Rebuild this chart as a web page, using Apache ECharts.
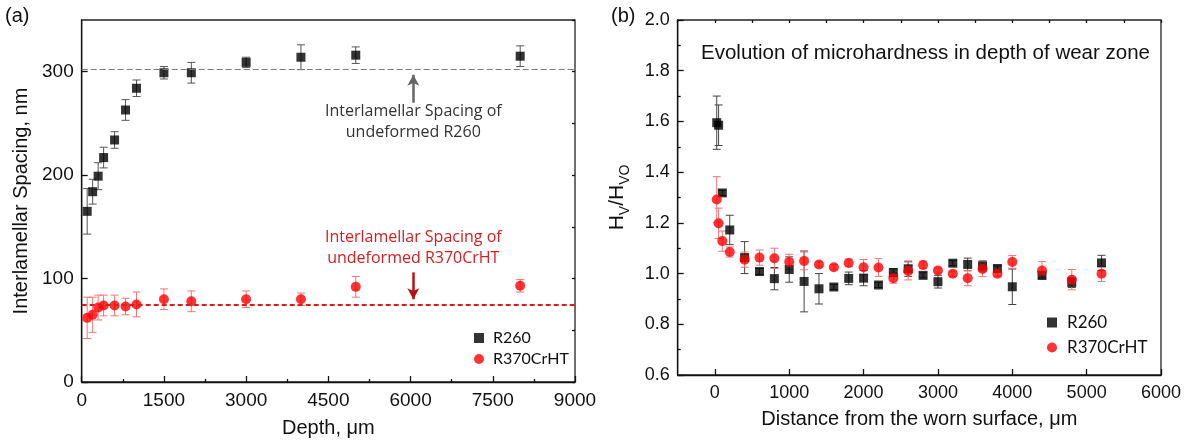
<!DOCTYPE html>
<html>
<head>
<meta charset="utf-8">
<script src="https://cdn.jsdelivr.net/npm/echarts@6/dist/echarts.min.js"></script>
<style>
  html, body { margin: 0; padding: 0; background: #ffffff; }
  #chart { width: 1192px; height: 443px; }
</style>
</head>
<body>
<div id="chart"></div>
<script>
// ---- Panel (a): interlamellar spacing versus depth ----
const depthUm = [100, 200, 300, 400, 600, 800, 1000, 1500, 2000, 3000, 4000, 5000, 8000];
const spacingR260 = [165, 184, 199, 217, 234, 263, 284, 299, 299, 309, 314, 316, 315];
const spacingR260Err = [22, 12, 13, 10, 8, 10, 8, 6, 10, 5, 12, 8, 10];
const spacingR370 = [62, 65, 72, 74, 74, 73, 75, 80, 78, 80, 80, 92, 93];
const spacingR370Err = [20, 17, 12, 10, 10, 8, 12, 10, 10, 8, 6, 10, 6];
const refSpacingR260 = 302;
const refSpacingR370 = 75;
const depthTicks = [0, 1500, 3000, 4500, 6000, 7500, 9000];
const spacingTicks = [0, 100, 200, 300];

// ---- Panel (b): normalised microhardness versus distance from the worn surface ----
const distanceUm = [25, 50, 100, 200, 400, 600, 800, 1000, 1200, 1400, 1600, 1800, 2000,
  2200, 2400, 2600, 2800, 3000, 3200, 3400, 3600, 3800, 4000, 4400, 4800, 5200];
const hvR260 = [1.595, 1.585, 1.318, 1.172, 1.063, 1.008, 0.980, 1.016, 0.969, 0.940, 0.947, 0.981, 0.982,
  0.955, 1.004, 1.019, 0.993, 0.968, 1.041, 1.036, 1.030, 1.020, 0.948, 0.993, 0.965, 1.042];
const hvR260Err = [0.105, 0.08, 0.01, 0.058, 0.063, 0.012, 0.044, 0.05, 0.12, 0.06, 0.01, 0.025, 0.03,
  0.01, 0.015, 0.03, 0.01, 0.025, 0.01, 0.025, 0.02, 0.01, 0.07, 0.01, 0.02, 0.03];
const hvR370 = [1.292, 1.198, 1.128, 1.085, 1.055, 1.063, 1.060, 1.046, 1.050, 1.036, 1.025, 1.042, 1.025,
  1.024, 0.982, 1.010, 1.034, 1.012, 0.999, 0.982, 1.018, 0.999, 1.046, 1.012, 0.976, 0.999];
const hvR370Err = [0.09, 0.06, 0.04, 0.02, 0.03, 0.03, 0.04, 0.03, 0.035, 0.01, 0.01, 0.015, 0.03,
  0.035, 0.02, 0.035, 0.015, 0.01, 0.01, 0.03, 0.03, 0.01, 0.025, 0.035, 0.04, 0.03];
const distanceTicks = [0, 1000, 2000, 3000, 4000, 5000, 6000];

const AXIS_FONT = '"Liberation Sans", Arial, sans-serif';
const NOTE_FONT = '"Open Sans", Lato, sans-serif';
const LEGEND_FONT = 'Lato, "Open Sans", sans-serif';
const INK = '#111111';

function zip3(xs, ys, es) {
  return xs.map((x, i) => [x, ys[i], es[i]]);
}

const plainNumber = v => String(v);

// Vertical error bar with short caps, drawn in data coordinates.
function errorBarRenderer(color) {
  return function (params, api) {
    const x = api.value(0), y = api.value(1), e = api.value(2);
    const hi = api.coord([x, y + e]);
    const lo = api.coord([x, y - e]);
    const cap = 4;
    const style = { stroke: color, lineWidth: 1 };
    return {
      type: 'group',
      children: [
        { type: 'line', shape: { x1: hi[0], y1: hi[1], x2: lo[0], y2: lo[1] }, style },
        { type: 'line', shape: { x1: hi[0] - cap, y1: hi[1], x2: hi[0] + cap, y2: hi[1] }, style },
        { type: 'line', shape: { x1: lo[0] - cap, y1: lo[1], x2: lo[0] + cap, y2: lo[1] }, style }
      ]
    };
  };
}

// Two-line note centred on a data point.
function noteRenderer(lines, color) {
  return function (params, api) {
    const p = api.coord([api.value(0), api.value(1)]);
    return {
      type: 'text',
      x: p[0], y: p[1],
      style: {
        text: lines.join('\n'),
        fill: color,
        font: '16px ' + NOTE_FONT,
        align: 'center',
        verticalAlign: 'middle',
        lineHeight: 21
      }
    };
  };
}

function errorSeries(name, xi, yi, data, color) {
  return {
    name, type: 'custom', xAxisIndex: xi, yAxisIndex: yi,
    data, encode: { x: 0, y: 1 }, z: 2, silent: true,
    renderItem: errorBarRenderer(color)
  };
}

const tickStyle = { color: INK, width: 1.3 };

const chart = echarts.init(document.getElementById('chart'), null, { renderer: 'canvas' });

chart.setOption({
  animation: false,
  backgroundColor: '#ffffff',
  grid: [
    { left: 81.7, top: 20, width: 493.3, height: 363.3, show: true, borderColor: '#222', borderWidth: 1.3, backgroundColor: 'transparent' },
    { left: 677.7, top: 20, width: 483.3, height: 355, show: true, borderColor: '#222', borderWidth: 1.3, backgroundColor: 'transparent' }
  ],
  title: {
    text: 'Evolution of microhardness in depth of wear zone',
    left: 696, top: 38,
    textStyle: { fontFamily: AXIS_FONT, fontSize: 20.5, fontWeight: 'normal', color: INK }
  },
  graphic: [
    { type: 'text', left: 5, top: 6, style: { text: '(a)', font: '20px ' + AXIS_FONT, fill: INK } },
    { type: 'text', left: 611, top: 6, style: { text: '(b)', font: '20px ' + AXIS_FONT, fill: INK } }
  ],
  legend: [
    {
      data: ['R260', 'R370CrHT'], orient: 'vertical', left: 469, top: 325,
      itemWidth: 10, itemHeight: 10, itemGap: 5, selectedMode: false,
      textStyle: { fontFamily: LEGEND_FONT, fontSize: 16, color: INK, padding: [0, 0, 0, 4] }
    },
    {
      data: ['R260', 'R370CrHT'], orient: 'vertical', left: 1042, top: 309,
      itemWidth: 10, itemHeight: 10, itemGap: 8, selectedMode: false,
      textStyle: { fontFamily: LEGEND_FONT, fontSize: 17, color: INK, padding: [0, 0, 0, 5] }
    }
  ],
  xAxis: [
    {
      gridIndex: 0, type: 'value', min: 0, max: 9000, interval: 1500,
      axisLine: { onZero: false, lineStyle: tickStyle },
      axisTick: { inside: true, length: 6, lineStyle: tickStyle },
      minorTick: { show: true, splitNumber: 2, length: 3, lineStyle: tickStyle },
      splitLine: { show: false },
      axisLabel: { color: INK, fontFamily: AXIS_FONT, fontSize: 19, margin: 9, customValues: depthTicks, formatter: plainNumber },
      name: 'Depth, \u03bcm', nameLocation: 'middle', nameGap: 36,
      nameTextStyle: { color: INK, fontFamily: AXIS_FONT, fontSize: 20 }
    },
    {
      gridIndex: 1, type: 'value', min: -500, max: 6000, interval: 500,
      axisLine: { onZero: false, lineStyle: tickStyle },
      axisTick: { inside: true, length: 6, lineStyle: tickStyle, customValues: distanceTicks },
      splitLine: { show: false },
      axisLabel: { color: INK, fontFamily: AXIS_FONT, fontSize: 18, margin: 9, customValues: distanceTicks, formatter: plainNumber },
      name: 'Distance from the worn surface, \u03bcm', nameLocation: 'middle', nameGap: 34,
      nameTextStyle: { color: INK, fontFamily: AXIS_FONT, fontSize: 20 }
    },
    {
      // short ticks every 500 µm
      gridIndex: 1, type: 'value', min: -500, max: 6000, interval: 500,
      axisLine: { show: false, onZero: false },
      axisTick: { inside: true, length: 3, lineStyle: tickStyle },
      axisLabel: { show: false }, splitLine: { show: false }
    }
  ],
  yAxis: [
    {
      gridIndex: 0, type: 'value', min: 0, max: 350, interval: 50,
      axisLine: { show: true, onZero: false, lineStyle: tickStyle },
      axisTick: { show: true, inside: true, length: 6, lineStyle: tickStyle, customValues: spacingTicks },
      splitLine: { show: false },
      axisLabel: { color: INK, fontFamily: AXIS_FONT, fontSize: 19, margin: 8, customValues: spacingTicks },
      name: 'Interlamellar Spacing, nm', nameLocation: 'middle', nameGap: 50, nameRotate: 90,
      nameTextStyle: { color: INK, fontFamily: AXIS_FONT, fontSize: 20 }
    },
    {
      // short ticks every 50 nm
      gridIndex: 0, type: 'value', min: 0, max: 350, interval: 50,
      axisLine: { show: false, onZero: false },
      axisTick: { show: true, inside: true, length: 3, lineStyle: tickStyle },
      axisLabel: { show: false }, splitLine: { show: false }
    },
    {
      gridIndex: 1, type: 'value', min: 0.6, max: 2.0, interval: 0.2,
      axisLine: { show: true, onZero: false, lineStyle: tickStyle },
      axisTick: { show: true, inside: true, length: 6, lineStyle: tickStyle },
      minorTick: { show: true, splitNumber: 2, length: 3, lineStyle: tickStyle },
      splitLine: { show: false },
      axisLabel: { color: INK, fontFamily: AXIS_FONT, fontSize: 18, margin: 8, formatter: v => v.toFixed(1) },
      name: '{a|H}{s|V}{a|/H}{s|VO}', nameLocation: 'middle', nameGap: 46, nameRotate: 90,
      nameTextStyle: {
        color: INK, fontFamily: AXIS_FONT, fontSize: 20,
        rich: {
          a: { fontFamily: AXIS_FONT, fontSize: 21, color: INK, lineHeight: 28 },
          s: { fontFamily: AXIS_FONT, fontSize: 14, color: INK, lineHeight: 14, verticalAlign: 'bottom' }
        }
      }
    }
  ],
  series: [
    // panel (a)
    errorSeries('R260 spacing error', 0, 0, zip3(depthUm, spacingR260, spacingR260Err), '#555555'),
    errorSeries('R370CrHT spacing error', 0, 0, zip3(depthUm, spacingR370, spacingR370Err), '#f07575'),
    {
      name: 'R260', type: 'scatter', xAxisIndex: 0, yAxisIndex: 0,
      data: depthUm.map((x, i) => [x, spacingR260[i]]),
      symbol: 'rect', symbolSize: 9, itemStyle: { color: '#000000' }, z: 4,
      markLine: {
        silent: true, label: { show: false }, symbol: 'none', animation: false,
        data: [
          { yAxis: refSpacingR260, lineStyle: { color: '#7a7a7a', width: 1.2, type: [6, 3] } },
          [
            { coord: [6050, 270], symbol: 'none', lineStyle: { color: '#666666', width: 2.5, type: 'solid' } },
            { coord: [6050, 297], symbol: 'arrow', symbolSize: [9, 11] }
          ]
        ]
      }
    },
    {
      name: 'R370CrHT', type: 'scatter', xAxisIndex: 0, yAxisIndex: 0,
      data: depthUm.map((x, i) => [x, spacingR370[i]]),
      symbol: 'circle', symbolSize: 10, itemStyle: { color: '#ff0000' }, z: 4,
      markLine: {
        silent: true, label: { show: false }, symbol: 'none', animation: false,
        data: [
          { yAxis: refSpacingR370, lineStyle: { color: '#d42020', width: 1.8, type: [5, 3] } },
          [
            { coord: [6050, 106], symbol: 'none', lineStyle: { color: '#b81010', width: 2.5, type: 'solid' } },
            { coord: [6050, 80], symbol: 'arrow', symbolSize: [9, 11] }
          ]
        ]
      }
    },
    {
      name: 'R260 note', type: 'custom', xAxisIndex: 0, yAxisIndex: 0, silent: true,
      data: [[6050, 251]], encode: { x: 0, y: 1 }, z: 5,
      renderItem: noteRenderer(['Interlamellar Spacing of', 'undeformed R260'], '#333333')
    },
    {
      name: 'R370CrHT note', type: 'custom', xAxisIndex: 0, yAxisIndex: 0, silent: true,
      data: [[6050, 130]], encode: { x: 0, y: 1 }, z: 5,
      renderItem: noteRenderer(['Interlamellar Spacing of', 'undeformed R370CrHT'], '#d42020')
    },
    // panel (b)
    errorSeries('R260 hardness error', 1, 2, zip3(distanceUm, hvR260, hvR260Err), '#444444'),
    errorSeries('R370CrHT hardness error', 1, 2, zip3(distanceUm, hvR370, hvR370Err), '#f07575'),
    {
      name: 'R260', type: 'scatter', xAxisIndex: 1, yAxisIndex: 2,
      data: distanceUm.map((x, i) => [x, hvR260[i]]),
      symbol: 'rect', symbolSize: 9, itemStyle: { color: '#000000' }, z: 4
    },
    {
      name: 'R370CrHT', type: 'scatter', xAxisIndex: 1, yAxisIndex: 2,
      data: distanceUm.map((x, i) => [x, hvR370[i]]),
      symbol: 'circle', symbolSize: 10, itemStyle: { color: '#ff0000' }, z: 4
    }
  ]
});
</script>
</body>
</html>
